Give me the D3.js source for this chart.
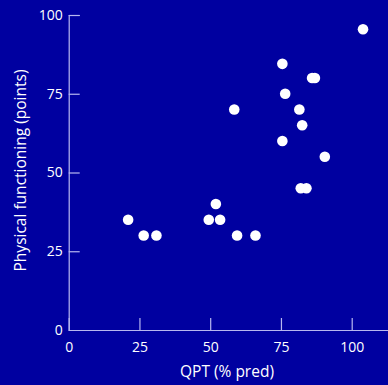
<!DOCTYPE html>
<html>
<head>
<meta charset="utf-8">
<script src="https://cdn.jsdelivr.net/npm/d3@7"></script>
<style>
  html, body { margin: 0; padding: 0; background: #0000a0; }
  svg { display: block; }
  text { font-family: "Open Sans", "Lato", sans-serif; fill: #ffffff; }
</style>
</head>
<body>
<svg id="chart" width="388" height="385"></svg>
<script>
// QPT (% predicted) vs physical functioning score
const qpt = [104, 75.5, 86, 87, 76.5, 58.5, 81.5, 82.5, 75.5, 90.5, 82, 84, 52, 21, 49.5, 53.5, 26.5, 31, 59.5, 66];
const physFunc = [95.5, 84.5, 80, 80, 75, 70, 70, 65, 60, 55, 45, 45, 40, 35, 35, 35, 30, 30, 30, 30];
const xTicks = [0, 25, 50, 75, 100];
const yTicks = [0, 25, 50, 75, 100];

const width = 388, height = 385;
const margin = { left: 68.7, top: 15 };
const bg = "#0000a0", axisColor = "#b8b8f0";
const font = "'Open Sans', Lato, sans-serif";

const svg = d3.select("#chart");
svg.append("rect").attr("width", width).attr("height", height).attr("fill", bg);

const x = d3.scaleLinear().domain([0, 113]).range([margin.left, margin.left + 113 * 2.83]);
const y = d3.scaleLinear().domain([0, 100]).range([330, margin.top]);

// x axis: ticks point up into the plot
const xAxis = svg.append("g").attr("transform", `translate(0,${y(0)})`)
  .call(d3.axisBottom(x).tickValues(xTicks).tickSize(-12).tickPadding(12).tickFormat(d3.format("d")));
// y axis: ticks point right into the plot
const yAxis = svg.append("g").attr("transform", `translate(${x(0)},0)`)
  .call(d3.axisLeft(y).tickValues(yTicks).tickSize(-11).tickPadding(6).tickFormat(d3.format("d")));

[xAxis, yAxis].forEach(g => {
  g.select(".domain").attr("stroke", axisColor).attr("stroke-width", 1.2);
  g.selectAll(".tick line").attr("stroke", axisColor).attr("stroke-width", 1.2);
  g.selectAll(".tick text").attr("fill", "#f4f4ff").style("font-size", "14px")
    .style("font-family", font);
});
xAxis.selectAll(".tick").filter(d => d === 0).select("line").remove();
yAxis.selectAll(".tick").filter(d => d === 0).select("line").remove();
xAxis.selectAll(".tick text").attr("dy", "0.71em");

svg.append("text")
  .attr("x", 227).attr("y", 377)
  .attr("text-anchor", "middle").style("font-size", "15.5px")
  .text("QPT (% pred)");

svg.append("text")
  .attr("transform", `translate(26,170.5) rotate(-90)`)
  .attr("text-anchor", "middle").style("font-size", "15.5px")
  .text("Physical functioning (points)");

svg.append("g").selectAll("circle")
  .data(qpt.map((v, i) => [v, physFunc[i]]))
  .join("circle")
  .attr("cx", d => x(d[0])).attr("cy", d => y(d[1]))
  .attr("r", 5.3).attr("fill", "#ffffff");
</script>
</body>
</html>
